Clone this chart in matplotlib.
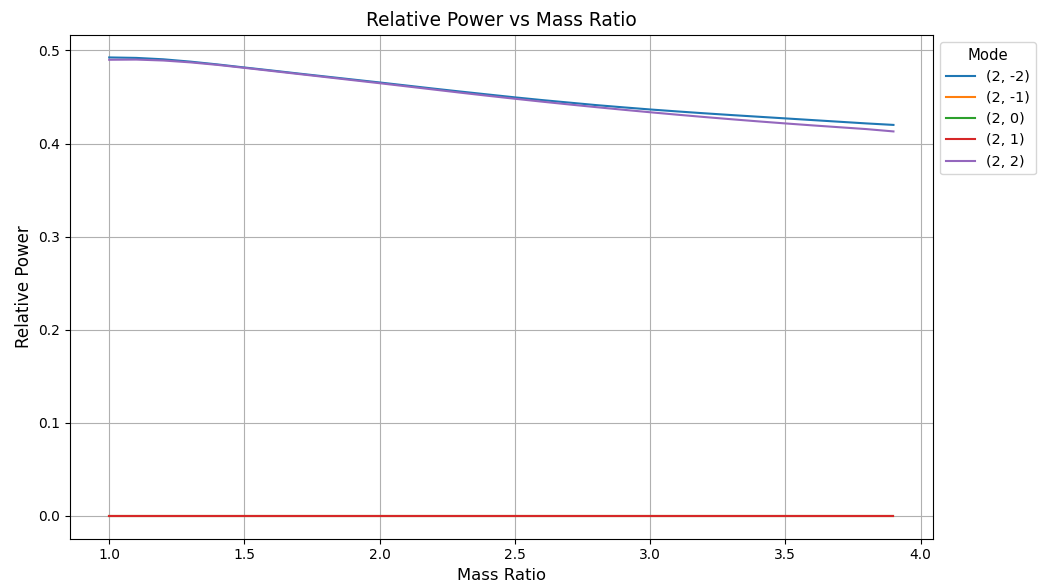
import matplotlib
matplotlib.use("Agg")
import matplotlib.pyplot as plt

mass_ratio = [1.0, 1.1, 1.2, 1.3, 1.4, 1.5, 1.6, 1.7, 1.8, 1.9,
              2.0, 2.1, 2.2, 2.3, 2.4, 2.5, 2.6, 2.7, 2.8, 2.9,
              3.0, 3.1, 3.2, 3.3, 3.4, 3.5, 3.6, 3.7, 3.8, 3.9]

mode_labels = ["(2, -2)", "(2, -1)", "(2, 0)", "(2, 1)", "(2, 2)"]

power_2m2 = [0.4925, 0.4920, 0.4905, 0.4880, 0.4850, 0.4817, 0.4785, 0.4752, 0.4720, 0.4688,
             0.4656, 0.4623, 0.4590, 0.4558, 0.4527, 0.4496, 0.4467, 0.4440, 0.4413, 0.4389,
             0.4366, 0.4345, 0.4325, 0.4306, 0.4288, 0.4270, 0.4252, 0.4234, 0.4216, 0.4200]
power_2m1 = [0.0] * 30
power_20 = [0.0] * 30
power_21 = [0.0] * 30
power_22 = [0.4900, 0.4902, 0.4892, 0.4872, 0.4845, 0.4813, 0.4780, 0.4747, 0.4714, 0.4681,
            0.4648, 0.4614, 0.4580, 0.4546, 0.4513, 0.4481, 0.4450, 0.4420, 0.4391, 0.4363,
            0.4336, 0.4310, 0.4285, 0.4261, 0.4238, 0.4216, 0.4195, 0.4175, 0.4155, 0.4130]

series = [power_2m2, power_2m1, power_20, power_21, power_22]


def main():
    fig, ax = plt.subplots(figsize=(10.4, 5.88), dpi=100)
    for label, values in zip(mode_labels, series):
        ax.plot(mass_ratio, values, label=label)
    ax.set_title("Relative Power vs Mass Ratio", fontsize=13.4)
    ax.set_xlabel("Mass Ratio", fontsize=11.8)
    ax.set_ylabel("Relative Power", fontsize=12)
    ax.grid(True)
    ax.legend(title="Mode", loc="upper left", bbox_to_anchor=(1.0, 1.0),
              fontsize=10.4, title_fontsize=10.6)
    fig.subplots_adjust(left=0.0673, right=0.8968, top=0.9413, bottom=0.0838)
    fig.savefig("out.png", dpi=100)


if __name__ == "__main__":
    main()
